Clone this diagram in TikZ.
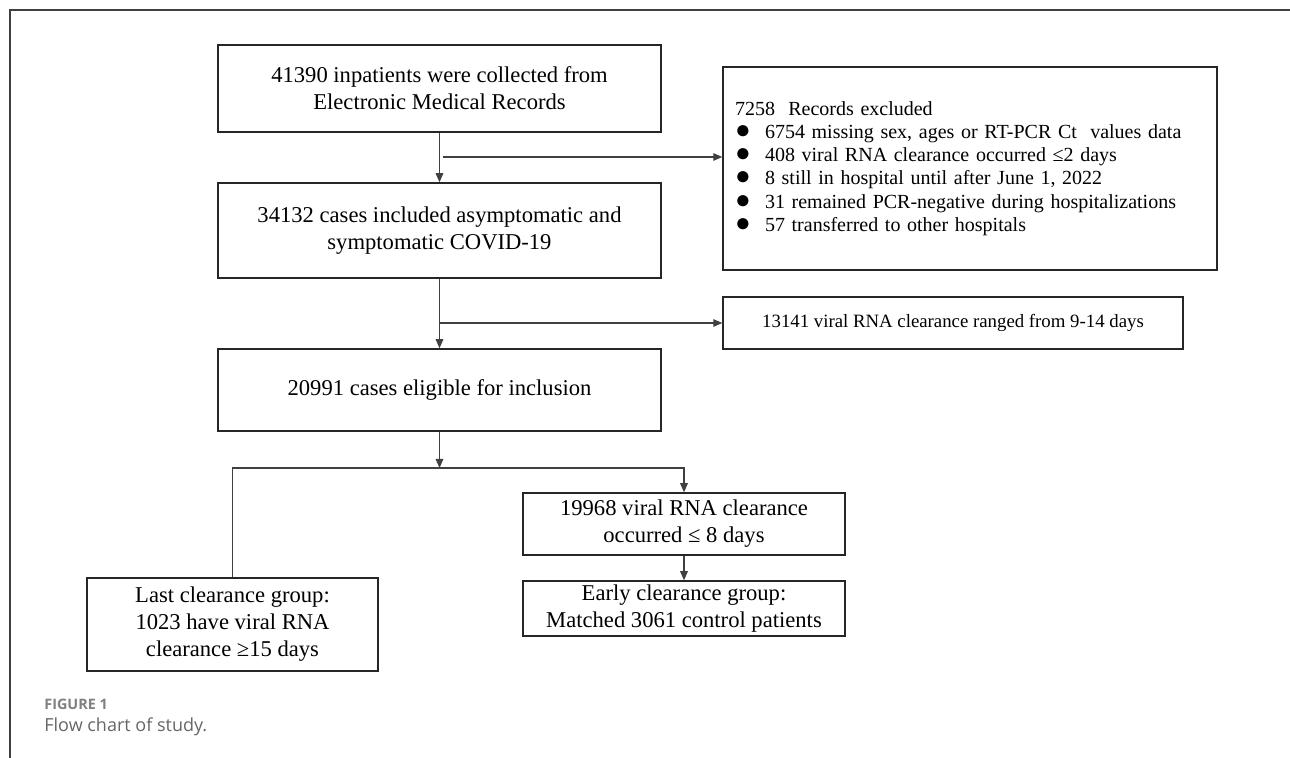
\documentclass[tikz,border=0pt]{standalone}
\usepackage{fontspec}
\setmainfont{Liberation Serif}
\newfontfamily\capfont{Open Sans}
\usetikzlibrary{arrows.meta,positioning}
\newcommand{\itemdot}{\makebox[15pt][l]{\smash{\fontsize{13}{9}\selectfont ●}}}
\tikzset{
	box/.style={draw=black!85,line width=0.75pt,align=center,inner sep=0pt,font=\fontsize{11.3}{13.5}\selectfont},
	link/.style={draw=black!75,line width=0.55pt},
	arr/.style={link,-{Triangle[length=4.5pt,width=3.8pt]}},
}
\begin{document}
\begin{tikzpicture}[x=0.5pt,y=-0.5pt]
	\useasboundingbox (0,0) rectangle (1290,758);
	\draw [line width=0.8pt,draw=black!75] (1290,10) -- (10,10) -- (10,758);
	\node (collected) at (439.5,88.5) [box,minimum width=221.5pt,minimum height=43.5pt] {41390 inpatients were collected from\\Electronic Medical Records};
	\node (included) at (439.5,230.5) [box,minimum width=221.5pt,minimum height=47.5pt] {34132 cases included asymptomatic and\\symptomatic COVID-19};
	\node (eligible) at (439.5,390) [box,minimum width=221.5pt,minimum height=41pt] {20991 cases eligible for inclusion};
	\node (excluded) at (970,168.5) [box,minimum width=247pt,minimum height=101.5pt,text width=235pt,align=left,font=\fontsize{10}{11.6}\selectfont] {7258\ \ Records excluded\\
		\itemdot 6754 missing sex, ages or RT-PCR Ct\ \ values data\\
		\itemdot 408 viral RNA clearance occurred ≤2 days\\
		\itemdot 8 still in hospital until after June 1, 2022\\
		\itemdot 31 remained PCR-negative during hospitalizations\\
		\itemdot 57 transferred to other hospitals};
	\node (ranged) at (953,323) [box,minimum width=230pt,minimum height=26pt,font=\fontsize{9.4}{11}\selectfont] {13141 viral RNA clearance ranged from 9-14 days};
	\node (early8) at (684,524) [box,minimum width=161pt,minimum height=31pt] {19968 viral RNA clearance\\occurred ≤ 8 days};
	\node (earlygrp) at (684,608.5) [box,minimum width=161pt,minimum height=27.5pt] {Early clearance group:\\Matched 3061 control patients};
	\node (lastgrp) at (232.5,624.5) [box,minimum width=145.5pt,minimum height=46.5pt] {Last clearance group:\\1023 have viral RNA\\clearance ≥15 days};
	\coordinate (split1) at (collected.south |- 0,157);
	\coordinate (split2) at (included.south |- ranged.west);
	\coordinate (fork) at (eligible.south |- 0,468);
	\draw [arr] (collected.south) -- (included.north);
	\draw [arr] (split1) ++(3,0) -- (split1 -| excluded.west);
	\draw [arr] (included.south) -- (eligible.north);
	\draw [arr] (split2) -- (ranged.west);
	\draw [arr] (eligible.south) -- (fork);
	\draw [arr] (lastgrp.north) |- (fork) -| (early8.north);
	\draw [arr] (early8.south) -- (earlygrp.north);
	\node (figlabel) at (44,704) [anchor=west,inner sep=0pt,text=black!50,font=\capfont\bfseries\fontsize{7.2}{8}\selectfont] {FIGURE 1};
	\node (figtitle) at (44,727) [anchor=west,inner sep=0pt,text=black!60,font=\capfont\fontsize{9}{10}\selectfont] {Flow chart of study.};
\end{tikzpicture}
\end{document}
